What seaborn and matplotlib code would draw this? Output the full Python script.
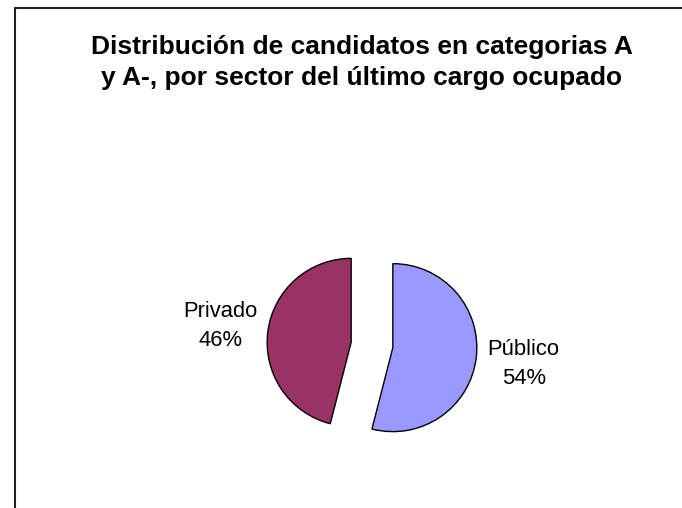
import numpy as np
import matplotlib
matplotlib.use("Agg")
import matplotlib.pyplot as plt
from matplotlib.lines import Line2D
import seaborn as sns

# data
sectors = ["Público", "Privado"]
shares = [54, 46]
slice_colors = ["#9999FF", "#993366"]
title = "Distribución de candidatos en categorias A\ny A-, por sector del último cargo ocupado"

sns.set_style("white")
plt.rcParams['font.family'] = ['Liberation Sans', 'DejaVu Sans']
plt.rcParams['text.color'] = 'black'

W, H = 682, 508
fig = plt.figure(figsize=(W / 100, H / 100), dpi=100)

# pie centre and radius in pixels
cx, cy, r = 372, 345, 84
half = 160
ax = fig.add_axes([(cx - half) / W, (H - cy - half) / H, 2 * half / W, 2 * half / H])

labels = [f"{s}\n{v}%" for s, v in zip(sectors, shares)]
ax.pie(shares, labels=labels, colors=slice_colors, startangle=90, counterclock=False,
       explode=[0.25, 0.25], labeldistance=1.57,
       wedgeprops=dict(edgecolor="black", linewidth=1.0),
       textprops=dict(fontsize=15.8, color="black", ha="center", va="center",
                      linespacing=1.5))
lim = half / r
ax.set_xlim(-lim, lim)
ax.set_ylim(-lim, lim)
ax.set_aspect("equal")
ax.axis("off")

fig.text(362 / W, 1 - 62.5 / H, title, ha="center", va="center", color="black",
         fontsize=19, fontweight="bold", linespacing=1.4)

# chart area frame (only top and left edges visible)
fig.add_artist(Line2D([15 / W, 15 / W], [0, 1 - 8 / H], color="#222222", linewidth=1.5))
fig.add_artist(Line2D([15 / W, 1], [1 - 8 / H, 1 - 8 / H], color="#222222", linewidth=1.5))

fig.savefig("out.png", dpi=100)
